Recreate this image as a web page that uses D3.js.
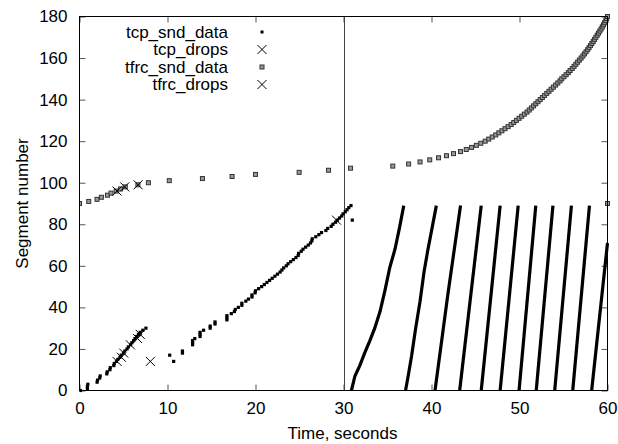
<!DOCTYPE html>
<html>
<head>
<meta charset="utf-8">
<script src="https://cdn.jsdelivr.net/npm/d3@7/dist/d3.min.js"></script>
<style>
  html, body { margin: 0; padding: 0; background: #fff; }
  svg { display: block; font-family: "Liberation Sans", Arial, Helvetica, sans-serif; }
</style>
</head>
<body>
<svg id="chart" width="618" height="444"></svg>
<script>
// ---------------- data ----------------
const xTicks = [0, 10, 20, 30, 40, 50, 60];
const yTicks = [0, 20, 40, 60, 80, 100, 120, 140, 160, 180];
const legendLabels = ["tcp_snd_data", "tcp_drops", "tfrc_snd_data", "tfrc_drops"];
const xLabel = "Time, seconds";
const yLabel = "Segment number";
const markerTime = 30;

// tcp_snd_data: [time, segment] (slow-start period and steady period)
const tcpSndData = [
  [0.1,0],[0.9,1],[0.9,2],[0.95,3],[2.0,4],[2.05,5],[2.3,6],[2.35,7],[3.1,8],[3.15,9],
  [3.45,10],[3.5,11],[3.9,12],[3.95,13],[4.2,14],[4.35,15],[4.6,16],[4.75,17],[5.0,18],[5.15,19],
  [5.4,20],[5.55,21],[5.8,22],[5.95,23],[6.15,24],[6.3,25],[6.5,26],[6.7,27],[6.9,28],[7.2,29],[7.55,30],
  [10.25,17],[10.7,14],[11.7,18],[11.7,19],[12.85,22],[12.85,23],[12.85,24],[13.1,25],[13.7,26],[13.7,27],
  [13.7,28],[14.1,29],[14.85,30],[14.85,31],[15.4,32],[15.4,33],[16.75,34],[16.75,35],[16.75,36],[17.25,37],
  [17.6,38],[17.7,39],[18.05,40],[18.45,41],[18.45,42],[18.9,43],[19.2,44],[19.6,45],[19.6,46],[19.95,47],
  [20.0,48],[20.35,49],[20.7,50],[21.0,51],[21.3,52],[21.6,53],[21.9,54],[22.2,55],[22.5,56],[22.8,57],
  [23.0,58],[23.2,59],[23.5,60],[23.7,61],[24.0,62],[24.3,63],[24.6,64],[24.85,65],[24.9,66],[25.2,67],
  [25.4,68],[25.7,69],[26.0,70],[26.25,71],[26.4,72],[26.45,73],[26.85,74],[27.2,75],[27.5,76],[28.0,77],
  [28.2,78],[28.6,79],[28.8,80],[29.1,81],[29.3,82],[29.55,83],[29.8,84],[29.95,85],[30.2,86],[30.4,87],
  [30.6,88],[30.85,89],[31.0,82]
];

// tcp_snd_data after 30 s: dense bursts, read as [time, segment] along each burst
const tcpBursts = [
  [[30.9,0],[31.3,7],[31.85,12],[32.4,18],[33.0,24],[33.55,30],[34.15,38],[34.7,48],[35.25,59],[35.85,68],[36.35,78],[36.85,89]],
  [[37.05,0],[37.35,7],[37.75,17],[38.2,30],[38.7,43],[39.15,57],[39.6,68],[40.1,79],[40.55,89]],
  [[40.4,0],[41.85,46],[43.3,89]],
  [[43.2,0],[45.65,89]],
  [[45.65,0],[47.8,89]],
  [[47.8,0],[49.85,89]],
  [[49.95,0],[51.85,89]],
  [[51.9,0],[53.8,89]],
  [[54.0,0],[55.9,89]],
  [[56.05,0],[57.95,89]],
  [[58.2,0],[60.0,71]]
];

// tcp_drops: [time, segment]
const tcpDrops = [[4.27,14],[4.76,16],[5.03,18],[5.78,22],[6.6,25],[6.9,27],[8.05,14],[29.2,82]];

// tfrc_snd_data: [time, segment]
const tfrcSndData = [
  [0,90],[1.05,91],[1.99,92],[2.49,93],[3.18,94],[3.58,95],[4.17,96],[4.67,97],[5.2,98],[6.64,99],
  [7.83,100],[10.2,101],[13.97,102],[17.34,103],[20.0,104],[24.96,105],[28.3,106],[30.8,107],
  [35.6,108],[37.4,109],[38.7,110],[39.8,111],[40.8,112],[41.7,113],[42.5,114],[43.3,115],[43.95,116],
  [44.55,117],[45.1,118],[45.6,119],[46.1,120],[46.5,121],[46.9,122],[47.3,123],[47.65,124],[48.0,125],
  [48.35,126],[48.7,127],[49.05,128],[49.35,129],[49.65,130],[49.95,131],[50.25,132],[50.55,133],
  [50.85,134],[51.1,135],[51.35,136],[51.6,137],[51.85,138],[52.1,139],[52.35,140],[52.6,141],
  [52.85,142],[53.1,143],[53.35,144],[53.6,145],[53.85,146],[54.1,147],[54.35,148],[54.6,149],
  [54.8,150],[55.05,151],[55.3,152],[55.55,153],[55.75,154],[56.0,155],[56.2,156],[56.4,157],
  [56.6,158],[56.8,159],[57.0,160],[57.2,161],[57.38,162],[57.56,163],[57.74,164],[57.9,165],
  [58.06,166],[58.22,167],[58.38,168],[58.53,169],[58.68,170],[58.83,171],[58.98,172],[59.13,173],
  [59.27,174],[59.41,175],[59.54,176],[59.67,177],[59.8,178],[59.9,179],[60.0,180],[60.0,90]
];

// tfrc_drops: [time, segment]
const tfrcDrops = [[4.27,96],[5.14,98],[6.66,99]];

// ---------------- drawing ----------------
const W = 618, H = 444;
const mLeft = 79.5, mRight = 607.5, mTop = 16.5, mBottom = 390.5;
const svg = d3.select("#chart");
svg.append("rect").attr("width", W).attr("height", H).attr("fill", "#fff");

const x = d3.scaleLinear().domain([0, 60]).range([mLeft, mRight]);
const y = d3.scaleLinear().domain([0, 180]).range([mBottom, mTop]);

svg.append("defs").append("clipPath").attr("id", "plotclip")
  .append("rect").attr("x", mLeft).attr("y", mTop - 3).attr("width", mRight - mLeft + 3).attr("height", mBottom - mTop + 6);

const tickLen = 6;
const fontSize = 17;

// axes with inward ticks (mirrored on top and right)
const gx = svg.append("g").attr("transform", `translate(0,${mBottom})`)
  .call(d3.axisBottom(x).tickValues(xTicks).tickSize(-tickLen).tickPadding(11).tickFormat(d3.format("d")));
const gxTop = svg.append("g").attr("transform", `translate(0,${mTop})`)
  .call(d3.axisTop(x).tickValues(xTicks).tickSize(-tickLen).tickFormat(""));
const gy = svg.append("g").attr("transform", `translate(${mLeft},0)`)
  .call(d3.axisLeft(y).tickValues(yTicks).tickSize(-tickLen).tickPadding(12).tickFormat(d3.format("d")));
const gyRight = svg.append("g").attr("transform", `translate(${mRight},0)`)
  .call(d3.axisRight(y).tickValues(yTicks).tickSize(-tickLen).tickFormat(""));

[gx, gxTop, gy, gyRight].forEach(g => {
  g.select(".domain").remove();
  g.selectAll(".tick line").attr("stroke", "#555").attr("stroke-width", 1);
  g.selectAll(".tick text").attr("fill", "#000").attr("font-size", fontSize)
    .attr("font-family", "'Liberation Sans', Arial, sans-serif");
});

// vertical marker at 30 s
svg.append("line")
  .attr("x1", Math.round(x(markerTime)) + 0.5).attr("x2", Math.round(x(markerTime)) + 0.5)
  .attr("y1", mTop).attr("y2", mBottom)
  .attr("stroke", "#444").attr("stroke-width", 1);

const plot = svg.append("g").attr("clip-path", "url(#plotclip)");

// tfrc_snd_data squares
plot.selectAll("rect.tfrc").data(tfrcSndData).enter().append("rect")
  .attr("class", "tfrc")
  .attr("x", d => x(d[0]) - 2).attr("y", d => y(d[1]) - 2)
  .attr("width", 4).attr("height", 4)
  .attr("fill", "#9a9a9a").attr("stroke", "#333").attr("stroke-width", 1);

// tcp_snd_data dots
plot.selectAll("rect.tcp").data(tcpSndData).enter().append("rect")
  .attr("class", "tcp")
  .attr("x", d => x(d[0]) - 1.6).attr("y", d => y(d[1]) - 1.6)
  .attr("width", 3.2).attr("height", 3.2).attr("fill", "#000");

// tcp bursts
const line = d3.line().x(d => x(d[0])).y(d => y(d[1]));
plot.selectAll("path.burst").data(tcpBursts).enter().append("path")
  .attr("class", "burst")
  .attr("d", line).attr("fill", "none").attr("stroke", "#000").attr("stroke-width", 3.2);

// drop crosses
const crossPath = "M-4.5,-4.5L4.5,4.5M-4.5,4.5L4.5,-4.5";
plot.selectAll("path.tcpdrop").data(tcpDrops).enter().append("path")
  .attr("class", "tcpdrop")
  .attr("transform", d => `translate(${x(d[0])},${y(d[1])})`)
  .attr("d", crossPath).attr("stroke", "#000").attr("stroke-width", 1).attr("fill", "none");
plot.selectAll("path.tfrcdrop").data(tfrcDrops).enter().append("path")
  .attr("class", "tfrcdrop")
  .attr("transform", d => `translate(${x(d[0])},${y(d[1])})`)
  .attr("d", crossPath).attr("stroke", "#000").attr("stroke-width", 1).attr("fill", "none");

// border
svg.append("rect").attr("x", mLeft).attr("y", mTop)
  .attr("width", mRight - mLeft).attr("height", mBottom - mTop)
  .attr("fill", "none").attr("stroke", "#000").attr("stroke-width", 1);

// axis titles
svg.append("text").attr("x", (mLeft + mRight) / 2 - 1).attr("y", 439)
  .attr("text-anchor", "middle").attr("font-size", fontSize).text(xLabel);
svg.append("text").attr("transform", `translate(28,${(mTop + mBottom) / 2}) rotate(-90)`)
  .attr("text-anchor", "middle").attr("font-size", fontSize).text(yLabel);

// legend
const legendY = [32, 49.5, 67, 84.5];
const lg = svg.append("g");
legendLabels.forEach((lab, i) => {
  lg.append("text").attr("x", 228).attr("y", legendY[i]).attr("dy", "0.35em")
    .attr("text-anchor", "end").attr("font-size", fontSize).text(lab);
  const sx = 262, sy = legendY[i];
  if (i === 0) {
    lg.append("rect").attr("x", sx - 1.5).attr("y", sy - 1.5).attr("width", 3).attr("height", 3).attr("fill", "#000");
  } else if (i === 2) {
    lg.append("rect").attr("x", sx - 2).attr("y", sy - 2).attr("width", 4).attr("height", 4)
      .attr("fill", "#9a9a9a").attr("stroke", "#333").attr("stroke-width", 1);
  } else {
    lg.append("path").attr("transform", `translate(${sx},${sy})`).attr("d", crossPath)
      .attr("stroke", "#000").attr("stroke-width", 1).attr("fill", "none");
  }
});
</script>
</body>
</html>
